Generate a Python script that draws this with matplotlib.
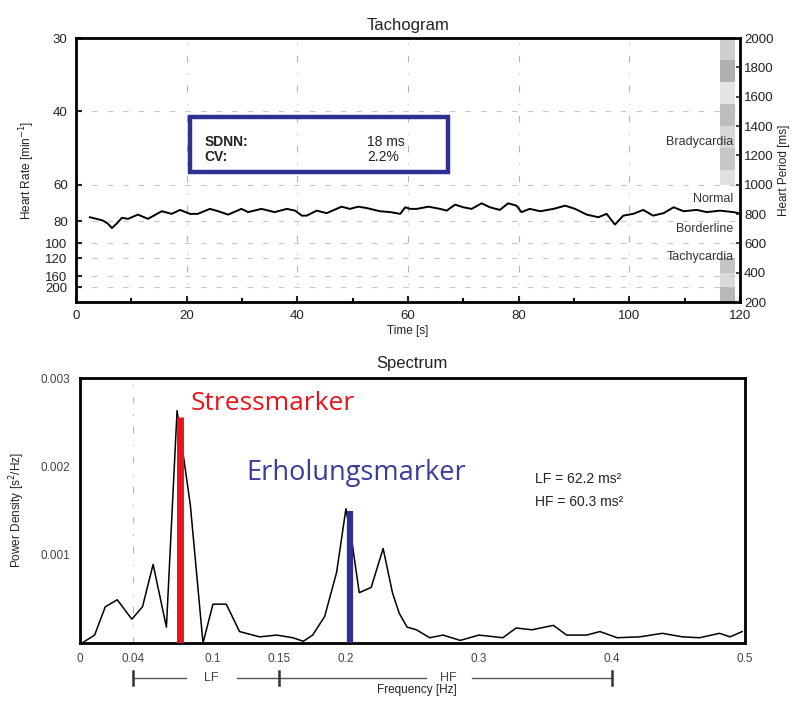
import matplotlib.pyplot as plt
from matplotlib.patches import Rectangle
import matplotlib.transforms as mtransforms

plt.rcParams['font.family'] = ['Liberation Sans', 'DejaVu Sans']

# Tachogram: heart period (ms) over time (s)
times = [2.5, 3.7, 4.9, 5.8, 6.5, 7.3, 8.3, 9.4, 11.2, 13.0, 15.5, 17.3, 18.8, 20.6,
         22.0, 24.2, 25.7, 27.5, 29.9, 31.1, 33.5, 35.9, 38.1, 39.6, 40.8, 41.7, 43.5,
         45.3, 48.0, 49.5, 51.0, 52.5, 54.9, 56.8, 58.6, 59.5, 60.4, 61.6, 63.7, 65.8,
         67.0, 68.5, 70.0, 71.5, 73.3, 74.8, 76.6, 78.1, 79.6, 80.5, 82.0, 83.9, 86.3,
         88.4, 90.2, 92.3, 94.4, 95.9, 97.4, 98.9, 100.7, 102.5, 104.3, 106.2, 108.0,
         109.8, 112.2, 114.0, 116.4, 118.8, 119.7]
periods = [778, 767, 755, 733, 704, 733, 774, 767, 796, 767, 819, 801, 828, 801,
           801, 835, 819, 796, 835, 813, 835, 813, 835, 823, 789, 789, 823,
           806, 850, 835, 850, 841, 819, 813, 801, 846, 835, 835, 850, 835,
           823, 864, 846, 835, 873, 846, 828, 873, 857, 813, 835, 819, 835,
           857, 835, 796, 778, 801, 728, 789, 801, 828, 789, 806, 846,
           819, 828, 813, 823, 813, 806]

hr_ticks = [30, 40, 60, 80, 100, 120, 160, 200]
period_ticks = [200, 400, 600, 800, 1000, 1200, 1400, 1600, 1800, 2000]
zone_names = ['Bradycardia', 'Normal', 'Borderline', 'Tachycardia']
zone_periods = [1290, 900, 700, 505]

# Spectrum: power density (s^2/Hz) over frequency (Hz)
freqs = [0.0015, 0.011, 0.019, 0.028, 0.039, 0.047, 0.055, 0.065, 0.073, 0.083,
         0.0925, 0.1, 0.11, 0.12, 0.135, 0.148, 0.16, 0.168, 0.175, 0.184, 0.193,
         0.2, 0.205, 0.21, 0.219, 0.228, 0.235, 0.24, 0.246, 0.253, 0.263, 0.273,
         0.286, 0.30, 0.318, 0.328, 0.34, 0.356, 0.366, 0.381, 0.391, 0.404, 0.421,
         0.438, 0.453, 0.466, 0.481, 0.489, 0.498]
power = [0.0, 0.00009, 0.00041, 0.00049, 0.00027, 0.00041, 0.00089, 0.00018, 0.00263,
         0.00156, 0.0, 0.00044, 0.00044, 0.00013, 0.00007, 0.00009, 0.00006, 0.00002,
         0.00009, 0.0003, 0.0008, 0.00152, 0.0011, 0.00057, 0.00063, 0.00107, 0.00057,
         0.00034, 0.00018, 0.00015, 0.00006, 0.00009, 0.00003, 0.00009, 0.00006,
         0.00017, 0.00015, 0.0002, 0.00009, 0.00009, 0.00013, 0.00006, 0.00007,
         0.00011, 0.00007, 0.00006, 0.00011, 0.00007, 0.00013]
freq_ticks = [0, 0.04, 0.1, 0.15, 0.2, 0.3, 0.4, 0.5]
freq_labels = ['0', '0.04', '0.1', '0.15', '0.2', '0.3', '0.4', '0.5']
stress_freq, stress_power = 0.0752, 0.00256
recovery_freq, recovery_power = 0.203, 0.00149
lf_band = (0.04, 0.15)
hf_band = (0.15, 0.4)

navy = '#2E3192'
ink = '#222222'

fig = plt.figure(figsize=(8, 7.02), dpi=100)

# ---------------- Tachogram ----------------
ax = fig.add_axes([0.095, 0.5698, 0.83, 0.376])
ax.set_xlim(0, 120)
ax.set_ylim(200, 2000)

# grey zone shading strip on the right edge
for lo, hi, g in [(1850, 2000, '#cfcfcf'), (1700, 1850, '#b0b0b0'), (1550, 1700, '#e4e4e4'),
                  (1400, 1550, '#bdbdbd'), (1250, 1400, '#d8d8d8'), (1100, 1250, '#c6c6c6'),
                  (1000, 1100, '#e0e0e0'), (400, 500, '#c4c4c4'), (300, 400, '#dadada'),
                  (200, 300, '#b8b8b8')]:
    ax.add_patch(Rectangle((116.3, lo), 2.8, hi - lo, color=g, lw=0, zorder=1))

for t in [20, 40, 60, 80, 100]:
    ax.axvline(t, color='#b5b5b5', lw=0.8, ls='-.', dashes=(6, 10, 1, 10), zorder=1)
for h in hr_ticks[1:]:
    ax.axhline(60000 / h, color='#c8c8c8', lw=0.8, ls='--', dashes=(5, 9), zorder=1)

ax.plot(times, periods, color='black', lw=1.4, zorder=3)

ax.set_yticks([60000 / h for h in hr_ticks])
ax.set_yticklabels([str(h) for h in hr_ticks])
ax.set_xticks([0, 20, 40, 60, 80, 100, 120])
ax.set_xticks(range(0, 121, 10), minor=True)
ax.tick_params(direction='in', length=4, width=1.5, labelsize=9.5, colors=ink, pad=6)
ax.tick_params(which='minor', direction='in', length=3, width=1.5)
for s in ax.spines.values():
    s.set_linewidth(2)

ax.set_xlabel('Time [s]', fontsize=8.5, color=ink, labelpad=2)
ax.set_ylabel('Heart Rate [min$^{-1}$]', fontsize=8.5, color=ink, labelpad=6)
ax.set_title('Tachogram', fontsize=12, color=ink, pad=6)

ax2 = ax.twinx()
ax2.set_ylim(200, 2000)
ax2.set_yticks(period_ticks)
ax2.tick_params(direction='in', length=3, width=1.2, labelsize=9.5, colors=ink, pad=3)
ax2.set_ylabel('Heart Period [ms]', fontsize=8.5, color=ink, labelpad=3)

for name, p in zip(zone_names, zone_periods):
    ax.text(118.8, p, name, ha='right', va='center', fontsize=9, color='#333333', zorder=4)

# SDNN / CV box
ax.add_patch(Rectangle((0.172, 0.492), 0.388, 0.208, transform=ax.transAxes,
                       fill=False, ec=navy, lw=3.2, zorder=5))
ax.text(0.194, 0.606, 'SDNN:', transform=ax.transAxes, fontsize=10, fontweight='bold',
        va='center', color=ink)
ax.text(0.194, 0.549, 'CV:', transform=ax.transAxes, fontsize=10, fontweight='bold',
        va='center', color=ink)
ax.text(0.438, 0.606, '18 ms', transform=ax.transAxes, fontsize=10, va='center', color=ink)
ax.text(0.438, 0.549, '2.2%', transform=ax.transAxes, fontsize=10, va='center', color=ink)

# ---------------- Spectrum ----------------
bx = fig.add_axes([0.1, 0.084, 0.831, 0.3775])
bx.set_xlim(0, 0.5)
bx.set_ylim(0, 0.003)
bx.axvline(0.04, color='#b5b5b5', lw=0.8, ls='-.', dashes=(6, 10, 1, 10), zorder=1)
bx.plot(freqs, power, color='black', lw=1.1, zorder=3)
bx.plot([stress_freq, stress_freq], [0, stress_power], color='#E8141C', lw=5,
        solid_capstyle='butt', zorder=4)
bx.plot([recovery_freq, recovery_freq], [0, recovery_power], color=navy, lw=4.5,
        solid_capstyle='butt', zorder=4)

bx.set_xticks(freq_ticks)
bx.set_xticklabels(freq_labels)
bx.set_yticks([0.001, 0.002, 0.003])
bx.set_yticklabels(['0.001', '0.002', '0.003'])
bx.tick_params(length=0, labelsize=8.5, colors='#444444', pad=7)
for s in bx.spines.values():
    s.set_linewidth(2)
bx.set_ylabel('Power Density [s$^2$/Hz]', fontsize=8.5, color=ink, labelpad=10)
bx.set_title('Spectrum', fontsize=12, color=ink, pad=7)

bx.text(0.083, 0.00271, 'Stressmarker', fontsize=19, color='#E8141C',
        family=['Open Sans', 'DejaVu Sans'], va='center')
bx.text(0.1255, 0.00192, 'Erholungsmarker', fontsize=19.5, color='#3B3B9A',
        family=['Open Sans', 'DejaVu Sans'], va='center')
bx.text(0.342, 0.00186, 'LF = 62.2 ms²', fontsize=10, color=ink, va='center')
bx.text(0.342, 0.00160, 'HF = 60.3 ms²', fontsize=10, color=ink, va='center')

# LF / HF band indicators below the axis
trans = mtransforms.blended_transform_factory(bx.transData, bx.transAxes)
yb = -0.132
band_kw = dict(transform=trans, clip_on=False, color='#555555', lw=1)
bx.plot([lf_band[0], 0.08], [yb, yb], **band_kw)
bx.plot([0.118, lf_band[1]], [yb, yb], **band_kw)
bx.plot([hf_band[0], 0.26], [yb, yb], **band_kw)
bx.plot([0.295, hf_band[1]], [yb, yb], **band_kw)
for f in [lf_band[0], lf_band[1], hf_band[1]]:
    bx.plot([f, f], [yb - 0.025, yb + 0.025], transform=trans, clip_on=False,
            color='#333333', lw=1.8)
bx.text(0.099, yb, 'LF', transform=trans, ha='center', va='center', fontsize=9, color='#444444')
bx.text(0.277, yb, 'HF', transform=trans, ha='center', va='center', fontsize=9, color='#444444')
bx.text(0.253, -0.177, 'Frequency [Hz]', transform=trans, ha='center', va='center',
        fontsize=8.5, color=ink)

fig.savefig('out.png', dpi=100)
